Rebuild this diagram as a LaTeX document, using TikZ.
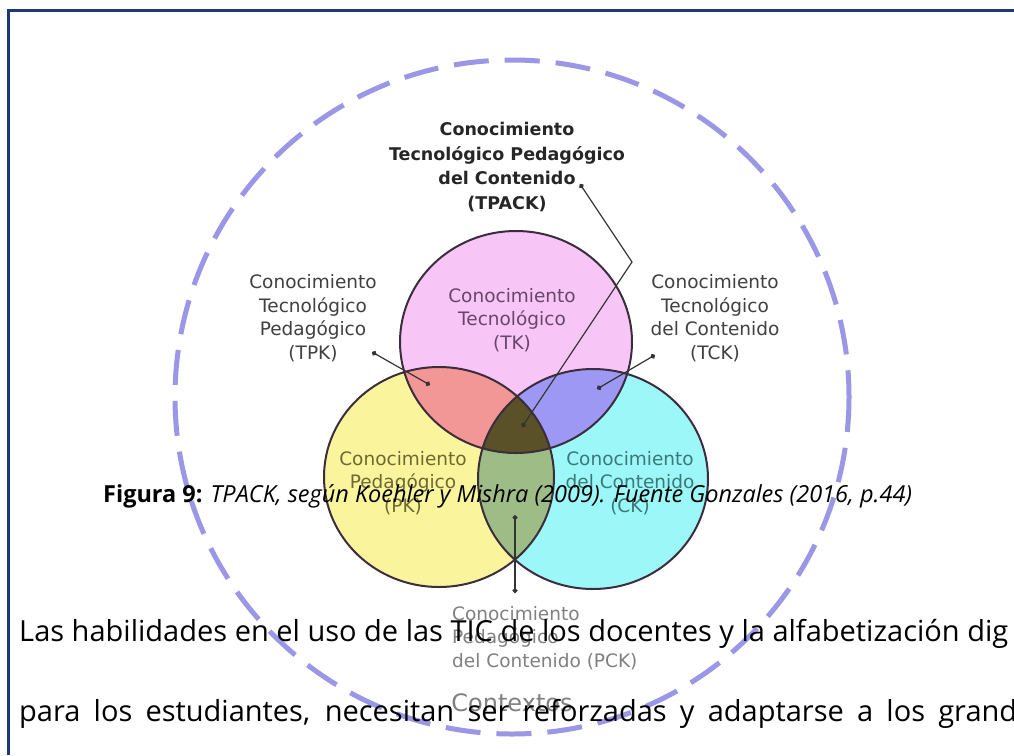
\documentclass[tikz,border=0pt]{standalone}
\usepackage{fontspec}
\setmainfont{Open Sans}
\newfontfamily\lblfont{DejaVu Sans}
\usetikzlibrary{arrows.meta}
\definecolor{frameblue}{RGB}{31,56,120}
\definecolor{ctxblue}{RGB}{155,150,230}
\definecolor{tkpink}{RGB}{247,198,247}
\definecolor{pkyellow}{RGB}{250,245,156}
\definecolor{ckcyan}{RGB}{156,248,248}
\definecolor{tpkred}{RGB}{242,150,150}
\definecolor{tckblue}{RGB}{156,152,244}
\definecolor{pckgreen}{RGB}{158,188,134}
\definecolor{tpackdark}{RGB}{90,81,40}
\definecolor{rim}{RGB}{60,45,60}
\newcommand{\tkcirc}{(516,342) ellipse [x radius=116, y radius=111]}
\newcommand{\pkcirc}{(439,477) ellipse [x radius=115, y radius=110]}
\newcommand{\ckcirc}{(593,479) ellipse [x radius=115, y radius=110]}

\begin{document}
\begin{tikzpicture}[x=1pt,y=-1pt,
    lbl/.style={font=\lblfont\fontsize{18.5}{23.5}\selectfont, align=center, inner sep=0pt, text=black!75},
    link/.style={draw=black!80, line width=1.2pt, {Circle[length=5pt]}-{Circle[length=5pt]}},
    prose/.style={anchor=base west, inner sep=0pt, font=\fontsize{29}{34}\selectfont}]
  \useasboundingbox (0,0) rectangle (1014,755);
  \fill[white] (-10,-10) rectangle (1030,770);
  \draw[frameblue, line width=3pt] (8,755) -- (8,10) -- (1014,10);

  \draw[ctxblue, line width=5pt, dash pattern=on 35pt off 16pt] (512,397) circle [radius=337];

  \fill[tkpink] \tkcirc;
  \fill[pkyellow] \pkcirc;
  \fill[ckcyan] \ckcirc;
  \begin{scope}\clip \tkcirc; \fill[tpkred] \pkcirc; \end{scope}
  \begin{scope}\clip \tkcirc; \fill[tckblue] \ckcirc; \end{scope}
  \begin{scope}\clip \pkcirc; \fill[pckgreen] \ckcirc; \end{scope}
  \begin{scope}\clip \tkcirc; \clip \pkcirc; \fill[tpackdark] \ckcirc; \end{scope}
  \draw[rim, line width=2pt] \tkcirc \pkcirc \ckcirc;

  \node[lbl, font=\lblfont\bfseries\fontsize{17.5}{24.5}\selectfont, text=black!85] (tpack) at (507,167)
    {Conocimiento\\Tecnológico Pedagógico\\del Contenido\\(TPACK)};
  \node[lbl] (tpk) at (313,318) {Conocimiento\\Tecnológico\\Pedagógico\\(TPK)};
  \node[lbl] (tck) at (715,318) {Conocimiento\\Tecnológico\\del Contenido\\(TCK)};
  \node[lbl, text={rgb,255:red,105;green,70;blue,105}] (tk) at (512,320) {Conocimiento\\Tecnológico\\(TK)};
  \node[lbl, text={rgb,255:red,110;green,105;blue,50}] (pk) at (403,483) {Conocimiento\\Pedagógico\\(PK)};
  \node[lbl, text={rgb,255:red,60;green,120;blue,120}] (ck) at (630,483) {Conocimiento\\del Contenido\\(CK)};
  \node[lbl, align=left, anchor=west, text=black!50] (pck) at (452,638) {Conocimiento\\Pedagógico\\del Contenido (PCK)};
  \node[lbl, font=\lblfont\fontsize{24}{28}\selectfont, text=black!50] (ctx) at (512,703) {Contextos};

  \coordinate (tpackdot) at (580,184);
  \coordinate (tpackbend) at (632,262);
  \coordinate (tpackend) at (522,427);
  \coordinate (tpkdot) at (372,352);
  \coordinate (tpkend) at (430,385);
  \coordinate (tckdot) at (655,355);
  \coordinate (tckend) at (597,389);
  \coordinate (pckdot) at (515,593);
  \coordinate (pckend) at (515,515);
  \draw[link] (tpackdot) -- (tpackbend) -- (tpackend);
  \draw[link] (tpkdot) -- (tpkend);
  \draw[link] (tckdot) -- (tckend);
  \draw[link] (pckdot) -- (pckend);

  \node[anchor=base west, inner sep=0pt, font=\fontsize{23.5}{27}\selectfont] (caption) at (103,502)
    {\textbf{Figura 9:} \textit{TPACK, según Koehler y Mishra (2009). Fuente Gonzales (2016, p.44)}};
  \node[prose] (line1) at (19,641)
    {Las habilidades en el uso de las TIC de los docentes y la alfabetización dig};
  \node[prose] (line2) at (19,721)
    {\makebox[998pt][s]{para los estudiantes, necesitan ser reforzadas y adaptarse a los grand}};
\end{tikzpicture}
\end{document}
